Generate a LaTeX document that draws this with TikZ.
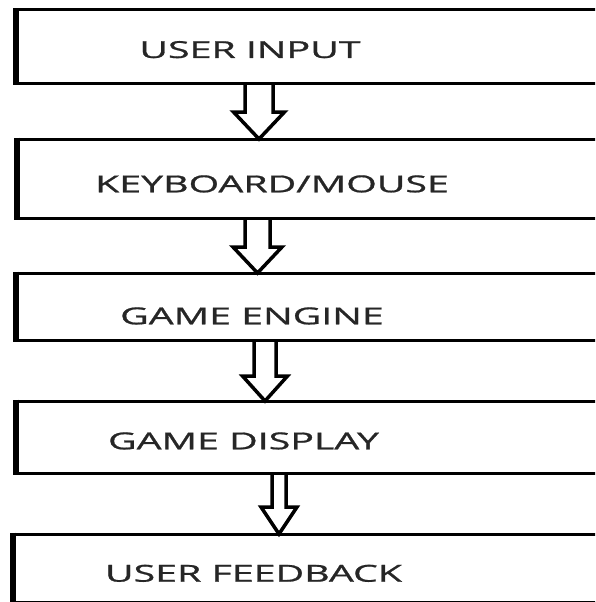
\documentclass[tikz,border=0pt]{standalone}
\usepackage{fontspec}
\setmainfont{Open Sans}
\newfontfamily\stagefont[FakeBold=0.8]{Open Sans}
\usepackage{tikz}
\usetikzlibrary{calc}

% hollow block arrow: from, to, x, stem half width, head half width, head length
\newcommand{\flowarrow}[6]{%
	\draw[flow] ($(#1.south -| #3)+(-#4,0)$) -- ($(#2.north -| #3)+(-#4,-#6)$)
		-- ($(#2.north -| #3)+(-#5,-#6)$) -- (#2.north -| #3)
		-- ($(#2.north -| #3)+(#5,-#6)$) -- ($(#2.north -| #3)+(#4,-#6)$)
		-- ($(#1.south -| #3)+(#4,0)$);
}

\begin{document}
\begin{tikzpicture}[x=1pt, y=-1pt,
		stage/.style={draw, rectangle, line width=3pt, anchor=north west, outer sep=0pt, inner sep=0pt, minimum width=640pt},
		edge/.style={line width=6pt, shorten <=-1.5pt, shorten >=-1.5pt},
		stagetext/.style={anchor=base, xscale=1.68, text=black!85, font=\stagefont\fontsize{23.4}{28}\selectfont},
		flow/.style={draw, line width=3.5pt, line join=miter}]
		\useasboundingbox (0,0) rectangle (595,602);
		\clip (0,0) rectangle (595,602);
		
		%boxes
		\node[stage, minimum height=73pt] (input) at (16,10) {};
		\node[stage, minimum height=79pt] (keys) at (16.5,139) {};
		\node[stage, minimum height=67pt] (engine) at (15.5,273) {};
		\node[stage, minimum height=72pt] (display) at (15.5,401) {};
		\node[stage, minimum height=68pt] (feedback) at (12.5,534) {};
		
		%thick left sides
		\foreach \b in {input,keys,engine,display,feedback}
			\draw[edge] (\b.north west) -- (\b.south west);
		
		%labels
		\node[stagetext] (t1) at (250,58) {USER INPUT};
		\node[stagetext] (t2) at (272,192.3) {KEYBOARD/MOUSE};
		\node[stagetext] (t3) at (252,324.3) {GAME ENGINE};
		\node[stagetext] (t4) at (243.5,449.3) {GAME DISPLAY};
		\node[stagetext] (t5) at (253.5,581.7) {USER FEEDBACK};
		
		%arrows
		\coordinate (x1) at (259,0);
		\coordinate (x2) at (257.5,0);
		\coordinate (x3) at (265,0);
		\coordinate (x4) at (279,0);
		\flowarrow{input}{keys}{x1}{14}{25.5}{27}
		\flowarrow{keys}{engine}{x2}{12.5}{24.5}{26}
		\flowarrow{engine}{display}{x3}{11}{22.5}{25}
		\flowarrow{display}{feedback}{x4}{7}{18}{27}
\end{tikzpicture}
\end{document}
